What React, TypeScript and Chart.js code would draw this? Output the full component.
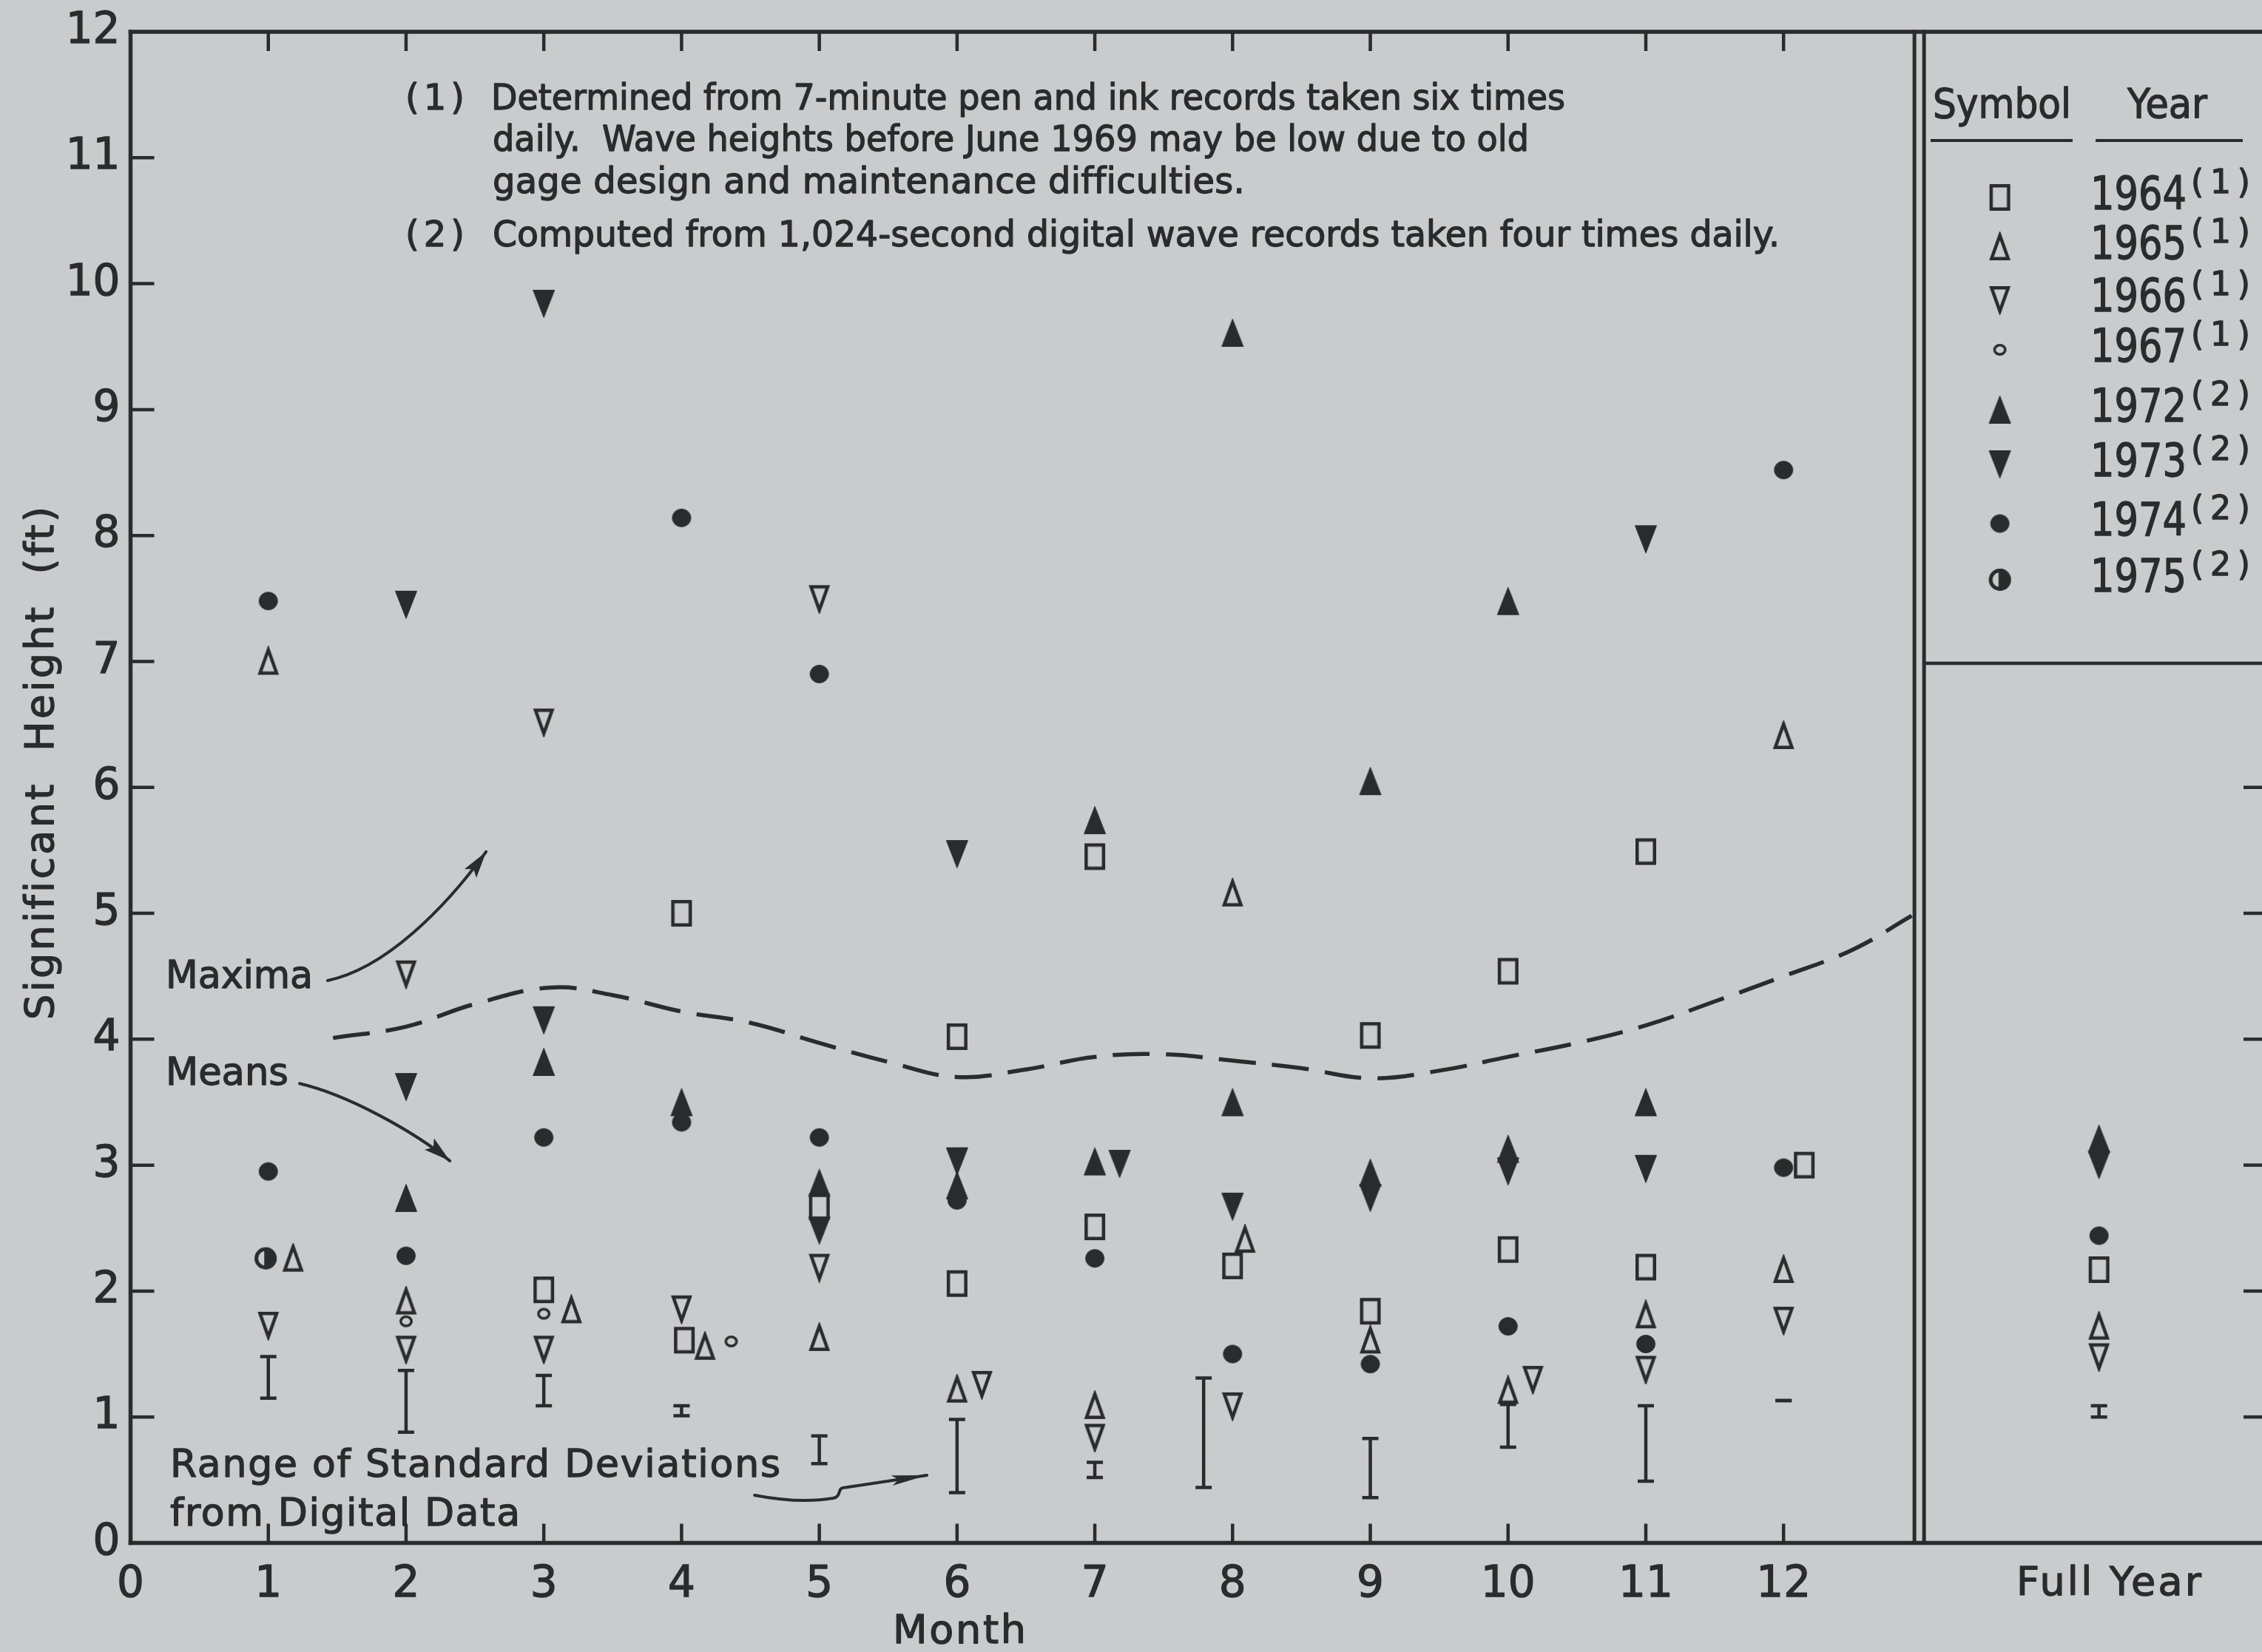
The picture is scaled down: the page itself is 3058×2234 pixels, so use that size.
import React, { useEffect, useRef } from 'react';
import { Chart, registerables } from 'chart.js';
import { drawPoint } from 'chart.js/helpers';

Chart.register(...registerables);

const INK = '#2a2b2c';
const PAPER = '#c9cbcc';
const FONT = '"DejaVu Sans", "Liberation Sans", sans-serif';

// ---------- axis ticks / labels ----------
const monthTickValues = [0, 1, 2, 3, 4, 5, 6, 7, 8, 9, 10, 11, 12];
const monthTickLabels = ['0', '1', '2', '3', '4', '5', '6', '7', '8', '9', '10', '11', '12'];
const heightTickValues = [0, 1, 2, 3, 4, 5, 6, 7, 8, 9, 10, 11, 12];
const heightTickLabels = ['0', '1', '2', '3', '4', '5', '6', '7', '8', '9', '10', '11', '12'];
const innerTickMonths = [1, 2, 3, 4, 5, 6, 7, 8, 9, 10, 11, 12];
const leftTickHeights = [1, 2, 3, 4, 5, 6, 7, 8, 9, 10, 11];
const rightTickHeights = [1, 2, 3, 4, 5, 6];
const FULL_YEAR_X = 14.29;
const X_MAX = 15.5;
const Y_MAX = 12;

// ---------- series: month position and significant height (ft) ----------
const m1964 = [3, 4, 4.02, 5, 6, 6, 7, 7, 8, 9, 9, 10, 10, 11, 11, 12.15, FULL_YEAR_X];
const h1964 = [2.01, 5.0, 1.61, 2.67, 4.02, 2.06, 5.45, 2.51, 2.2, 4.03, 1.84, 4.54, 2.33, 5.49, 2.19, 3.0, 2.17];

const m1965 = [1, 1.18, 2, 3.2, 4.17, 5, 6, 7, 8, 8.09, 9, 10, 11, 12, 12, FULL_YEAR_X];
const h1965 = [7.0, 2.26, 1.92, 1.85, 1.56, 1.63, 1.22, 1.09, 5.16, 2.41, 1.61, 1.21, 1.81, 6.41, 2.17, 1.72];

const m1966 = [1, 2, 2, 3, 3, 4, 5, 5, 6.18, 7, 8, 10.18, 11, 12, FULL_YEAR_X];
const h1966 = [1.73, 4.52, 1.54, 6.52, 1.54, 1.86, 7.5, 2.19, 1.26, 0.84, 1.09, 1.3, 1.38, 1.77, 1.48];

const m1967 = [2, 3, 4.36];
const h1967 = [1.76, 1.82, 1.6];

const m1972 = [2, 3, 4, 5, 6, 7, 7, 8, 8, 9, 9, 10, 10, 11, FULL_YEAR_X];
const h1972 = [2.74, 3.82, 3.5, 2.86, 2.84, 5.74, 3.03, 9.61, 3.5, 6.05, 2.94, 7.48, 3.13, 3.5, 3.21];

const m1973 = [2, 2, 3, 3, 5, 6, 6, 7.18, 8, 9, 10, 11, 11, FULL_YEAR_X];
const h1973 = [7.45, 3.62, 9.84, 4.15, 2.48, 5.47, 3.03, 3.01, 2.67, 2.74, 2.95, 7.97, 2.97, 3.0];

const m1974 = [1, 1, 2, 3, 4, 4, 5, 5, 6, 7, 8, 9, 10, 11, 12, 12, FULL_YEAR_X];
const h1974 = [7.48, 2.95, 2.28, 3.22, 8.14, 3.34, 6.9, 3.22, 2.72, 2.26, 1.5, 1.42, 1.72, 1.58, 8.52, 2.98, 2.44];

const m1975 = [0.98];
const h1975 = [2.26];

// range of standard deviations from digital data
const sdMonth = [1, 2, 3, 4, 5, 6, 7, 7.79, 9, 10, 11, 12, FULL_YEAR_X];
const sdLow = [1.15, 0.88, 1.09, 1.01, 0.63, 0.4, 0.52, 0.44, 0.36, 0.76, 0.49, 1.13, 1.0];
const sdHigh = [1.48, 1.37, 1.33, 1.09, 0.85, 0.98, 0.64, 1.31, 0.83, 1.1, 1.09, 1.13, 1.09];

// dashed boundary between maxima (above) and means (below)
const boundMonth = [1.47, 2, 2.5, 3.05, 3.5, 4, 4.5, 5, 5.5, 6, 6.5, 7, 7.5, 8, 8.5, 9, 9.5, 10, 10.5, 11, 11.5, 12, 12.5, 12.93];
const boundHeight = [4.01, 4.1, 4.28, 4.41, 4.35, 4.22, 4.13, 3.97, 3.82, 3.7, 3.76, 3.86, 3.88, 3.83, 3.77, 3.69, 3.75, 3.86, 3.97, 4.11, 4.3, 4.5, 4.71, 4.98];

// legend
const legendYears = ['1964', '1965', '1966', '1967', '1972', '1973', '1974', '1975'];
const legendNotes = ['(1)', '(1)', '(1)', '(1)', '(2)', '(2)', '(2)', '(2)'];
const legendRowY = [267, 334, 405, 473, 554, 628, 708, 784];

const noteLines = [
  'Determined from 7-minute pen and ink records taken six times',
  'daily.  Wave heights before June 1969 may be low due to old',
  'gage design and maintenance difficulties.',
  'Computed from 1,024-second digital wave records taken four times daily.',
];

const CANVAS_W = 3070;
const CANVAS_H = 2234;
const AREA = { left: 176.5, top: 43, right: 3063, bottom: 2086.5 };

function pts(xs: number[], ys: number[]) {
  return xs.map((x, i) => ({ x, y: ys[i] }));
}

// marker images (tall symbols, as lettered on the original)
function makeMarker(kind: string, w: number, h: number, filled: boolean, lw: number) {
  const pad = 3;
  const c = document.createElement('canvas');
  c.width = Math.ceil(w + 2 * pad);
  c.height = Math.ceil(h + 2 * pad);
  const g = c.getContext('2d')!;
  g.translate(pad, pad);
  g.fillStyle = INK;
  g.strokeStyle = INK;
  g.lineWidth = lw;
  g.lineJoin = 'miter';
  const i = filled ? 0.5 : lw / 2;
  g.beginPath();
  if (kind === 'rect') {
    g.rect(i, i, w - 2 * i, h - 2 * i);
  } else if (kind === 'up') {
    g.moveTo(w / 2, i);
    g.lineTo(w - i, h - i);
    g.lineTo(i, h - i);
    g.closePath();
  } else if (kind === 'down') {
    g.moveTo(i, i);
    g.lineTo(w - i, i);
    g.lineTo(w / 2, h - i);
    g.closePath();
  } else if (kind === 'circle') {
    g.ellipse(w / 2, h / 2, w / 2 - i, h / 2 - i, 0, 0, Math.PI * 2);
  }
  if (filled) {
    g.fill();
    g.lineWidth = 1;
    g.stroke();
  } else {
    g.stroke();
  }
  return c;
}

function makeHalfCircle(r: number) {
  const c = document.createElement('canvas');
  const size = Math.ceil(2 * r + 6);
  c.width = size;
  c.height = size;
  const g = c.getContext('2d')!;
  const cx = size / 2;
  const cy = size / 2;
  g.save();
  g.beginPath();
  g.arc(cx, cy, r, 0, Math.PI * 2);
  g.clip();
  g.fillStyle = INK;
  g.fillRect(cx - r * 0.12, 0, size, size);
  g.restore();
  g.beginPath();
  g.arc(cx, cy, r - 2.5, 0, Math.PI * 2);
  g.lineWidth = 5;
  g.strokeStyle = INK;
  g.stroke();
  return c;
}

function fitText(ctx: any, text: string, x: number, y: number, width: number, size: number, align: string = 'left') {
  ctx.font = `${size}px ${FONT}`;
  ctx.letterSpacing = '0px';
  ctx.textAlign = 'left';
  ctx.textBaseline = 'middle';
  ctx.lineWidth = 1.3;
  ctx.lineJoin = 'round';
  const w0 = ctx.measureText(text).width;
  const n = Array.from(text).length;
  const left = align === 'center' ? x - width / 2 : align === 'right' ? x - width : x;
  if (n > 1 && w0 < width) {
    const s = (width - w0) / (n - 1);
    ctx.letterSpacing = `${s}px`;
    ctx.fillText(text, left, y);
    ctx.strokeText(text, left, y);
    ctx.letterSpacing = '0px';
  } else {
    ctx.save();
    ctx.translate(left, y);
    ctx.scale(width / w0, 1);
    ctx.fillText(text, 0, 0);
    ctx.strokeText(text, 0, 0);
    ctx.restore();
  }
}

function arrowHead(ctx: any, tx: number, ty: number, ang: number, len: number, hw: number) {
  ctx.save();
  ctx.translate(tx, ty);
  ctx.rotate(ang);
  ctx.beginPath();
  ctx.moveTo(0, 0);
  ctx.lineTo(-len, -hw);
  ctx.lineTo(-len * 0.8, 0);
  ctx.lineTo(-len, hw);
  ctx.closePath();
  ctx.fill();
  ctx.restore();
}

export default function App() {
  const ref = useRef<HTMLCanvasElement>(null);

  useEffect(() => {
    const canvas = ref.current!;
    const sq = makeMarker('rect', 28, 36, false, 4.5);
    const openUp = makeMarker('up', 27, 36, false, 4.5);
    const openDown = makeMarker('down', 27, 36, false, 4.5);
    const smallCircle = makeMarker('circle', 18, 16, false, 3.5);
    const fillUp = makeMarker('up', 30, 38, true, 1);
    const fillDown = makeMarker('down', 30, 38, true, 1);
    const fillCircle = makeMarker('circle', 26, 25, true, 1);
    const halfCircle = makeHalfCircle(15);

    const yearDefs: any[] = [
      { label: '1964', data: pts(m1964, h1964), style: sq },
      { label: '1965', data: pts(m1965, h1965), style: openUp },
      { label: '1966', data: pts(m1966, h1966), style: openDown },
      { label: '1967', data: pts(m1967, h1967), style: smallCircle },
      { label: '1972', data: pts(m1972, h1972), style: fillUp },
      { label: '1973', data: pts(m1973, h1973), style: fillDown },
      { label: '1974', data: pts(m1974, h1974), style: fillCircle },
      { label: '1975', data: pts(m1975, h1975), style: halfCircle },
    ];

    const sdData: any[] = [];
    sdMonth.forEach((m, i) => {
      sdData.push({ x: m, y: sdLow[i] });
      sdData.push({ x: m, y: sdHigh[i] });
      sdData.push({ x: m, y: null });
    });

    const datasets: any[] = yearDefs.map((d) => ({
      type: 'scatter',
      label: d.label,
      data: d.data,
      showLine: false,
      pointStyle: d.style,
      pointRadius: 15,
      pointHoverRadius: 15,
    }));

    datasets.push({
      type: 'scatter',
      label: 'Range of Standard Deviations',
      data: sdData,
      showLine: true,
      spanGaps: false,
      borderColor: INK,
      borderWidth: 4.5,
      pointStyle: 'line',
      pointRadius: 11,
      pointBorderColor: INK,
      pointBorderWidth: 4.5,
    });

    datasets.push({
      type: 'scatter',
      label: 'Maxima / Means boundary',
      data: pts(boundMonth, boundHeight),
      showLine: true,
      borderColor: INK,
      borderWidth: 5.5,
      borderDash: [50, 22],
      tension: 0.4,
      pointRadius: 0,
    });

    const decor = {
      id: 'decor',
      beforeDraw(chart: any) {
        const { ctx, width, height } = chart;
        ctx.save();
        ctx.fillStyle = PAPER;
        ctx.fillRect(0, 0, width, height);
        ctx.restore();
      },
      beforeDatasetsDraw(chart: any) {
        const ctx = chart.ctx;
        const X = (v: number) => chart.scales.x.getPixelForValue(v);
        const Y = (v: number) => chart.scales.y.getPixelForValue(v);
        const line = (x1: number, y1: number, x2: number, y2: number) => {
          ctx.beginPath();
          ctx.moveTo(x1, y1);
          ctx.lineTo(x2, y2);
          ctx.stroke();
        };
        ctx.save();
        ctx.strokeStyle = INK;
        ctx.lineCap = 'square';
        ctx.lineWidth = 5.5;
        line(X(0), Y(Y_MAX), X(0), Y(0));
        line(X(0), Y(Y_MAX), X(X_MAX), Y(Y_MAX));
        line(X(0), Y(0), X(X_MAX), Y(0));
        line(X(X_MAX), Y(Y_MAX), X(X_MAX), Y(0));
        ctx.lineWidth = 5;
        line(X(12.95), Y(Y_MAX), X(12.95), Y(0));
        line(X(13.02), Y(Y_MAX), X(13.02), Y(0));
        ctx.lineWidth = 4.5;
        line(X(13.02), Y(6.985), X(X_MAX), Y(6.985));
        ctx.lineCap = 'butt';
        ctx.lineWidth = 4.5;
        innerTickMonths.forEach((m) => {
          line(X(m), Y(Y_MAX), X(m), Y(Y_MAX) + 26);
          line(X(m), Y(0), X(m), Y(0) - 26);
        });
        leftTickHeights.forEach((h) => line(X(0), Y(h), X(0) + 32, Y(h)));
        rightTickHeights.forEach((h) => line(X(X_MAX) - 30, Y(h), X(X_MAX), Y(h)));
        ctx.restore();
      },
      afterDatasetsDraw(chart: any) {
        const ctx = chart.ctx;
        const X = (v: number) => chart.scales.x.getPixelForValue(v);
        const Y = (v: number) => chart.scales.y.getPixelForValue(v);
        ctx.save();
        ctx.fillStyle = INK;
        ctx.strokeStyle = INK;

        // tick labels
        ctx.font = `58px ${FONT}`;
        ctx.textBaseline = 'middle';
        ctx.lineWidth = 1.3;
        ctx.textAlign = 'center';
        monthTickValues.forEach((m, i) => {
          ctx.fillText(monthTickLabels[i], X(m), Y(0) + 57);
          ctx.strokeText(monthTickLabels[i], X(m), Y(0) + 57);
        });
        ctx.textAlign = 'right';
        heightTickValues.forEach((h, i) => {
          ctx.fillText(heightTickLabels[i], X(0) - 14, Y(h));
          ctx.strokeText(heightTickLabels[i], X(0) - 14, Y(h));
        });

        // axis titles
        fitText(ctx, 'Month', 1297, 2208, 180, 54, 'center');
        fitText(ctx, 'Full Year', 2851, 2143, 250, 54, 'center');
        ctx.save();
        ctx.translate(58, 1032);
        ctx.rotate(-Math.PI / 2);
        fitText(ctx, 'Significant  Height  (ft)', 0, 0, 694, 54, 'center');
        ctx.restore();

        // notes
        fitText(ctx, '(1)', 548, 136, 80, 48);
        fitText(ctx, noteLines[0], 664, 136, 1452, 48);
        fitText(ctx, noteLines[1], 666, 192, 1401, 48);
        fitText(ctx, noteLines[2], 666, 249, 1016, 48);
        fitText(ctx, '(2)', 548, 321, 80, 48);
        fitText(ctx, noteLines[3], 666, 321, 1740, 48);

        // annotations
        fitText(ctx, 'Maxima', 224, 1322, 199, 52);
        fitText(ctx, 'Means', 224, 1453, 166, 52);
        fitText(ctx, 'Range of Standard Deviations', 230, 1983, 825, 52);
        fitText(ctx, 'from Digital Data', 230, 2049, 473, 52);

        ctx.lineWidth = 4;
        ctx.lineCap = 'round';
        // Maxima arrow
        {
          const p0 = [X(1.431), Y(4.466)], c1 = [X(1.845), Y(4.559)], c2 = [X(2.275), Y(5.029)], p1 = [X(2.581), Y(5.488)];
          ctx.beginPath();
          ctx.moveTo(p0[0], p0[1]);
          ctx.bezierCurveTo(c1[0], c1[1], c2[0], c2[1], p1[0], p1[1]);
          ctx.stroke();
          arrowHead(ctx, p1[0], p1[1], Math.atan2(p1[1] - c2[1], p1[0] - c2[0]), 36, 10);
        }
        // Means arrow
        {
          const p0 = [X(1.227), Y(3.648)], c1 = [X(1.576), Y(3.56)], c2 = [X(2.06), Y(3.266)], p1 = [X(2.318), Y(3.034)];
          ctx.beginPath();
          ctx.moveTo(p0[0], p0[1]);
          ctx.bezierCurveTo(c1[0], c1[1], c2[0], c2[1], p1[0], p1[1]);
          ctx.stroke();
          arrowHead(ctx, p1[0], p1[1], Math.atan2(p1[1] - c2[1], p1[0] - c2[0]), 36, 10);
        }
        // Range arrow
        {
          const a = [X(4.53), Y(0.379)], b = [X(4.86), Y(0.31)], c = [X(5.1), Y(0.355)];
          const d1 = [X(5.17), Y(0.37)], d2 = [X(5.12), Y(0.44)], e = [X(5.19), Y(0.44)], f = [X(5.781), Y(0.537)];
          ctx.beginPath();
          ctx.moveTo(a[0], a[1]);
          ctx.quadraticCurveTo(b[0], b[1], c[0], c[1]);
          ctx.bezierCurveTo(d1[0], d1[1], d2[0], d2[1], e[0], e[1]);
          ctx.lineTo(f[0], f[1]);
          ctx.stroke();
          arrowHead(ctx, f[0], f[1], Math.atan2(f[1] - e[1], f[0] - e[0]), 48, 7);
        }

        // legend
        fitText(ctx, 'Symbol', 2613, 144, 187, 56);
        fitText(ctx, 'Year', 2876, 144, 108, 56);
        ctx.lineWidth = 4;
        ctx.lineCap = 'butt';
        ctx.beginPath();
        ctx.moveTo(2610, 190);
        ctx.lineTo(2802, 190);
        ctx.moveTo(2833, 190);
        ctx.lineTo(3032, 190);
        ctx.stroke();
        const symX = X(13.57);
        yearDefs.forEach((d, i) => {
          const yy = legendRowY[i];
          drawPoint(ctx, { pointStyle: d.style, rotation: 0, radius: 15, borderWidth: 0 }, symX, yy);
          fitText(ctx, legendYears[i], 2826, yy, 130, 62);
          fitText(ctx, legendNotes[i], 2962, yy - 17, 80, 44);
        });
        ctx.restore();
      },
    };

    const chart = new Chart(canvas, {
      type: 'scatter',
      data: { datasets },
      options: {
        responsive: false,
        maintainAspectRatio: false,
        devicePixelRatio: 1,
        animation: false,
        events: [],
        layout: {
          autoPadding: false,
          padding: {
            left: AREA.left,
            top: AREA.top,
            right: CANVAS_W - AREA.right,
            bottom: CANVAS_H - AREA.bottom,
          },
        },
        scales: {
          x: { type: 'linear', min: 0, max: X_MAX, display: false },
          y: { type: 'linear', min: 0, max: Y_MAX, display: false },
        },
        plugins: {
          legend: { display: false },
          tooltip: { enabled: false },
        },
      } as any,
      plugins: [decor],
    });

    return () => chart.destroy();
  }, []);

  return (
    <div
      style={{
        position: 'fixed',
        left: 0,
        top: 0,
        width: '100vw',
        height: '100vh',
        overflow: 'hidden',
        background: PAPER,
      }}
    >
      <canvas ref={ref} width={CANVAS_W} height={CANVAS_H} style={{ display: 'block', width: CANVAS_W, height: CANVAS_H }} />
    </div>
  );
}
